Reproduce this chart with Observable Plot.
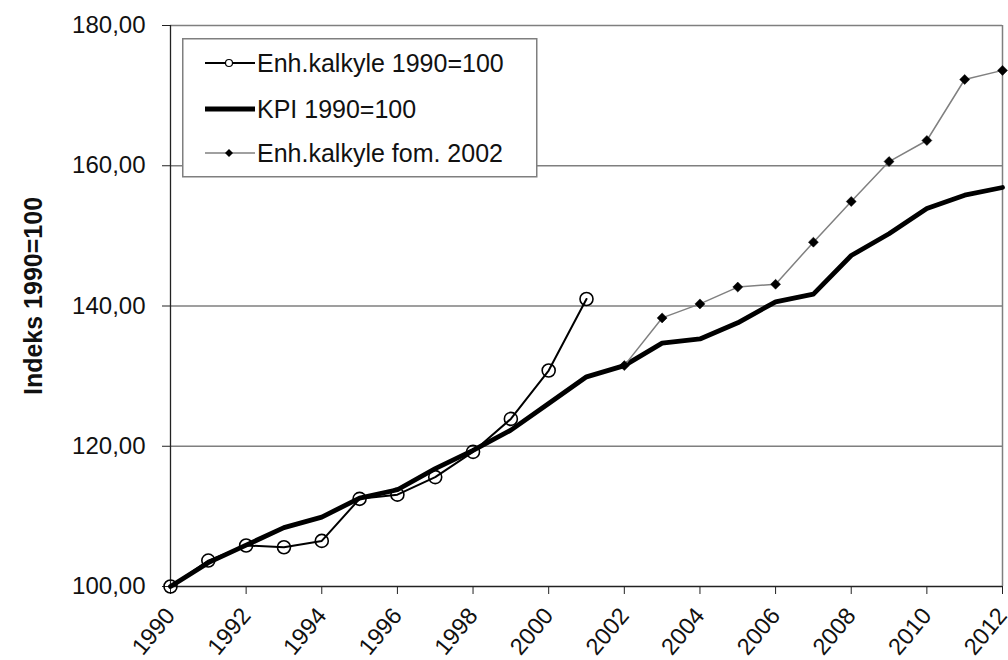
<!DOCTYPE html>
<html>
<head>
<meta charset="utf-8">
<script src="https://cdn.jsdelivr.net/npm/d3@7"></script>
<script src="https://cdn.jsdelivr.net/npm/@observablehq/plot@0.6"></script>
<style>
  html, body { margin: 0; padding: 0; background: #fff; }
  #wrap { position: relative; width: 1008px; height: 660px; font-family: "Liberation Sans", Arial, sans-serif; }
  #legend { position: absolute; left: 182px; top: 38px; }
</style>
</head>
<body>
<div id="wrap"></div>
<script>
// ---- data ----
const years = [1990,1991,1992,1993,1994,1995,1996,1997,1998,1999,2000,2001,2002,2003,2004,2005,2006,2007,2008,2009,2010,2011,2012];
const kpi = [100,103.4,105.9,108.4,109.9,112.6,113.8,116.8,119.4,122.3,126.1,129.9,131.5,134.7,135.3,137.6,140.6,141.7,147.2,150.3,153.9,155.8,156.9];
const enhYears = [1990,1991,1992,1993,1994,1995,1996,1997,1998,1999,2000,2001];
const enh = [100,103.7,105.85,105.6,106.5,112.5,113.1,115.6,119.2,123.9,130.8,141.0];
const fomYears = [2002,2003,2004,2005,2006,2007,2008,2009,2010,2011,2012];
const fom = [131.5,138.3,140.3,142.7,143.1,149.1,154.9,160.6,163.6,172.3,173.6];
const yTicks = [100,120,140,160,180];
const xTicks = [1990,1992,1994,1996,1998,2000,2002,2004,2006,2008,2010,2012];
const seriesNames = ["Enh.kalkyle 1990=100","KPI 1990=100","Enh.kalkyle fom. 2002"];
const yLabel = "Indeks 1990=100";

const kpiData = years.map((x,i)=>({x, y:kpi[i]}));
const enhData = enhYears.map((x,i)=>({x, y:enh[i]}));
const fomData = fomYears.map((x,i)=>({x, y:fom[i]}));

const chart = Plot.plot({
  width: 1008, height: 660,
  marginLeft: 170, marginRight: 6, marginTop: 25, marginBottom: 74,
  style: {fontFamily: "'Liberation Sans', Arial, sans-serif", background: "white", color: "#111"},
  x: {domain: [1990, 2012]},
  y: {domain: [100, 180]},
  marks: [
    Plot.gridY(yTicks.slice(1), {stroke: "#7f7f7f", strokeOpacity: 1, strokeWidth: 1.3}),
    Plot.ruleX([2012], {stroke: "#7f7f7f", strokeWidth: 1.5}),
    Plot.axisY(yTicks, {tickSize: 8, tickPadding: 17, fontSize: 24, tickFormat: d => d.toFixed(2).replace(".", ","), label: null, stroke: "#222"}),
    Plot.axisX(xTicks, {tickSize: 8, tickPadding: 17, tickRotate: -50, fontSize: 23.5, tickFormat: d => String(d), label: null, stroke: "#222"}),
    Plot.ruleY([100], {stroke: "#222", strokeWidth: 1.3}),
    Plot.ruleX([1990], {stroke: "#222", strokeWidth: 1.3}),
    Plot.line(kpiData, {x: "x", y: "y", stroke: "black", strokeWidth: 4.8}),
    Plot.line(fomData, {x: "x", y: "y", stroke: "#808080", strokeWidth: 1.5}),
    Plot.dot(fomData, {x: "x", y: "y", symbol: "diamond2", r: 4.5, fill: "black", stroke: "black", strokeWidth: 0.5}),
    Plot.line(enhData, {x: "x", y: "y", stroke: "black", strokeWidth: 2}),
    Plot.dot(enhData, {x: "x", y: "y", r: 6.5, stroke: "black", fill: "none", strokeWidth: 1.6}),
    Plot.text([yLabel], {frameAnchor: "left", textAnchor: "middle", dx: -137, dy: -10, rotate: -90, fontWeight: "bold", fontSize: 25, fill: "#111"})
  ]
});
document.getElementById("wrap").appendChild(chart);

// ---- legend ----
const lg = d3.select("#wrap").append("svg").attr("id", "legend")
  .attr("width", 356).attr("height", 140);
lg.append("rect").attr("x", 0.75).attr("y", 0.75).attr("width", 354).attr("height", 138)
  .attr("fill", "white").attr("stroke", "#7f7f7f").attr("stroke-width", 1.5);
const rowsY = [25, 71, 115];
const g = lg.selectAll("g.row").data(seriesNames).join("g").attr("transform", (d,i)=>`translate(0,${rowsY[i]})`);
g.append("line").attr("x1", 23).attr("x2", 73).attr("y1", 0).attr("y2", 0)
  .attr("stroke", (d,i)=> i===2 ? "#808080" : "black")
  .attr("stroke-width", (d,i)=> i===1 ? 4.8 : (i===0 ? 2 : 1.5));
g.filter((d,i)=>i===0).append("circle").attr("cx", 47).attr("cy", 0).attr("r", 3.5)
  .attr("fill", "white").attr("stroke", "black").attr("stroke-width", 1.2);
g.filter((d,i)=>i===2).append("path").attr("d", "M47,-4L51,0L47,4L43,0Z").attr("fill", "black");
g.append("text").attr("x", 75).attr("y", 0).attr("dy", "0.36em")
  .attr("font-size", 25).attr("fill", "#111")
  .attr("font-family", "'Liberation Sans', Arial, sans-serif")
  .text(d=>d);
</script>
</body>
</html>
